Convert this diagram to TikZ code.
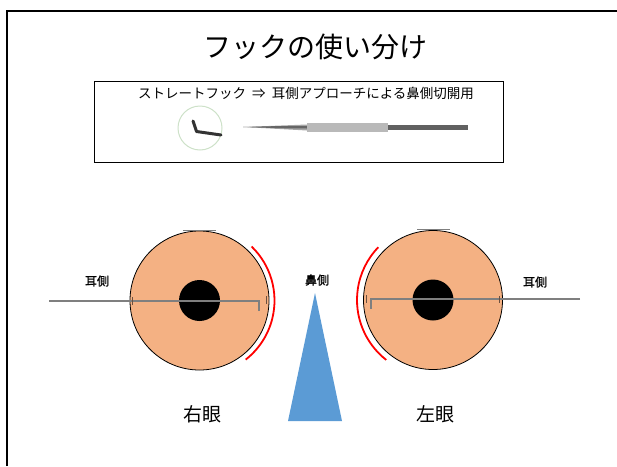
\documentclass[tikz,border=0pt]{standalone}
\usepackage{fontspec}
\setmainfont{Noto Sans CJK JP}
\newfontfamily\jpbold{Noto Sans CJK JP}[FakeBold=1.2]
\usetikzlibrary{calc}
\definecolor{eyefill}{HTML}{F4B183}
\definecolor{wedge}{HTML}{5B9BD5}
\definecolor{hookline}{HTML}{7F7F7F}
\definecolor{tickcol}{HTML}{6B5040}
\tikzset{
  eyeball/.style={circle, draw=black, line width=0.8pt, fill=eyefill, minimum size=139pt, inner sep=0pt},
  pupil/.style={circle, fill=black, minimum size=41pt, inner sep=0pt},
  probe/.style={draw=hookline, line width=1.6pt},
  lid/.style={draw=hookline, line width=1.4pt},
  incision/.style={draw=red, line width=1.8pt},
  tick/.style={draw=tickcol, line width=1pt},
  sidelabel/.style={font=\jpbold\fontsize{12}{14}\selectfont, inner sep=0pt},
  eyelabel/.style={font=\fontsize{19}{22}\selectfont, inner sep=0pt},
}
\begin{document}
\begin{tikzpicture}[x=1pt, y=-1pt]
\useasboundingbox (0,0) rectangle (617,466);
% slide frame
\draw[line width=2pt] (6.5,466) -- (6.5,10.5) -- (617,10.5);

% title
\node[font=\fontsize{28}{32}\selectfont, inner sep=0pt] (title) at (315,47) {フックの使い分け};

% instrument box
\node[draw=black, line width=1pt, minimum width=409pt, minimum height=81pt, inner sep=0pt] (box) at (298.5,121.5) {};
\node[font=\fontsize{13.5}{15}\selectfont, inner sep=0pt] (sub) at (306,93) {ストレートフック\ \ ⇒\ \ 耳側アプローチによる鼻側切開用};

% hook tip close-up
\node[circle, draw={rgb,255:red,205;green,225;blue,200}, line width=1pt, minimum size=44pt, inner sep=0pt] (zoomc) at (200,128) {};
\draw[line width=3pt, color=black!80, line join=round, line cap=round] (193,121) -- (196.5,131.5) -- (221,135);

% instrument
\fill[gray!70] (243,127) -- (307,124.5) -- (307,130.5) -- cycle;
\fill[black!60] (243,127) -- (280,126) -- (307,126) -- (307,128.5) -- (280,128.2) -- cycle;
\node[rectangle, fill=gray!55, minimum width=81pt, minimum height=9pt, inner sep=0pt] (handle) at (347.5,127.5) {};
\node[rectangle, fill=black!62, minimum width=80pt, minimum height=4.5pt, inner sep=0pt] (rod) at (428,127.5) {};

% right eye
\node[eyeball] (eyeR) at (199.5,300.5) {};
\node[pupil] (pupR) at (eyeR.center) {};
\draw[lid] (183,230.5) -- (216,230.5);
\coordinate (probeRstart) at (49,301);
\coordinate (probeRbend) at (259,301);
\coordinate (probeRtip) at (259,311);
\draw[probe] (probeRstart) -- (probeRbend) -- (probeRtip);
\draw[tick] (132.5,297) -- (132.5,305);
\draw[tick] (266,296) -- (266,304);
\draw[incision] ($(eyeR.center)+(-46:75)$) arc[start angle=-46, end angle=52, radius=75];
\node[sidelabel] (earR) at (97,281) {耳側};
\node[eyelabel] (nameR) at (202,414) {右眼};

% left eye
\node[eyeball] (eyeL) at (433,300) {};
\node[pupil] (pupL) at (eyeL.center) {};
\draw[lid] (417,229.5) -- (450,229.5);
\coordinate (probeLstart) at (580,299);
\coordinate (probeLbend) at (371,299);
\coordinate (probeLtip) at (371,309);
\draw[probe] (probeLstart) -- (probeLbend) -- (probeLtip);
\draw[tick] (366,295) -- (366,303);
\draw[tick] (499.5,296) -- (499.5,303);
\draw[incision] ($(eyeL.center)+(128:76)$) arc[start angle=128, end angle=224, radius=76];
\node[sidelabel] (earL) at (535,282) {耳側};
\node[eyelabel] (nameL) at (435,414) {左眼};

% nasal side wedge
\node[sidelabel] (nose) at (317,280) {鼻側};
\coordinate (apex) at (315,293);
\coordinate (baseL) at (288,421);
\coordinate (baseR) at (342,421);
\fill[wedge] (apex) -- (baseR) -- (baseL) -- cycle;
\end{tikzpicture}
\end{document}
